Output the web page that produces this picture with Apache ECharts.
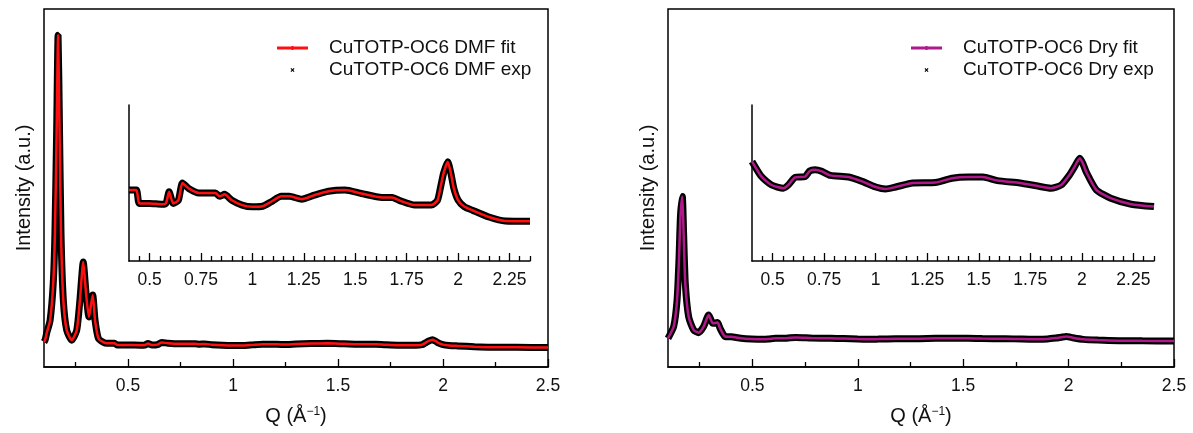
<!DOCTYPE html>
<html>
<head>
<meta charset="utf-8">
<title>CuTOTP-OC6 scattering</title>
<script src="https://cdn.jsdelivr.net/npm/echarts@6.0.0/dist/echarts.min.js"></script>
<style>
  html, body { margin: 0; padding: 0; background: #fff; }
  #chart { width: 1193px; height: 433px; }
</style>
</head>
<body>
<div id="chart"></div>
<script>
// Q (1/Å) and intensity (a.u., main frame runs 0-100)
var dmfQ = [0.100, 0.105, 0.113, 0.129, 0.144, 0.152, 0.160, 0.167, 0.173, 0.181, 0.192, 0.208, 0.232, 0.256, 0.271, 0.287,
    0.300, 0.314, 0.332, 0.343, 0.359, 0.380, 0.400, 0.436, 0.450, 0.500, 0.560, 0.580, 0.595, 0.615, 0.640, 0.660,
    0.690, 0.740, 0.820, 0.840, 0.865, 0.900, 0.950, 1.000, 1.050, 1.090, 1.140, 1.180, 1.240, 1.300, 1.370, 1.450,
    1.530, 1.630, 1.680, 1.720, 1.790, 1.870, 1.900, 1.915, 1.930, 1.950, 1.965, 1.980, 2.000, 2.030, 2.070, 2.150,
    2.230, 2.350, 2.500];
var dmfI = [7.0, 7.5, 9.5, 13, 23.4, 37.4, 65, 92.7, 70, 37.4, 18.7, 10.3, 7.5, 10.3, 18.7, 29.3,
    20.7, 14, 20.1, 13.1, 8, 7.0, 6.6, 6.6, 6.13, 6.13, 6.1, 6.14, 6.54, 6.13, 6.24, 6.85,
    6.66, 6.5, 6.5, 6.38, 6.45, 6.24, 6.07, 6.01, 6.03, 6.18, 6.38, 6.38, 6.28, 6.42, 6.56, 6.6,
    6.48, 6.34, 6.34, 6.22, 6.07, 6.07, 6.24, 6.7, 7.2, 7.6, 7.2, 6.65, 6.25, 6.02, 5.89, 5.65,
    5.51, 5.5, 5.45];

var dryQ = [0.100, 0.127, 0.143, 0.152, 0.159, 0.168, 0.174, 0.182, 0.198, 0.222, 0.245, 0.269, 0.293, 0.313, 0.335, 0.347,
    0.371, 0.400, 0.446, 0.495, 0.552, 0.576, 0.609, 0.658, 0.680, 0.706, 0.739, 0.780, 0.869, 0.934, 1.000, 1.048,
    1.097, 1.180, 1.290, 1.370, 1.450, 1.520, 1.590, 1.700, 1.780, 1.850, 1.900, 1.940, 1.965, 1.990, 2.005, 2.020,
    2.070, 2.140, 2.240, 2.350, 2.500];
var dryI = [8.0, 11.3, 18.7, 29.9, 42, 47.6, 37.3, 23.4, 14, 10.3, 9.6, 11.3, 14.5, 12.2, 12.4, 10.8,
    8.5, 8.43, 8.05, 7.84, 7.76, 7.84, 8.03, 8.05, 8.19, 8.22, 8.18, 8.08, 8.04, 7.93, 7.79, 7.74,
    7.79, 7.89, 7.90, 8.01, 8.04, 8.04, 7.95, 7.89, 7.82, 7.76, 7.84, 8.09, 8.3, 8.51, 8.38, 8.18,
    7.72, 7.51, 7.36, 7.30, 7.25];

var mainTicks = [0.5, 1, 1.5, 2, 2.5];
var mainMinorTicks = [0.25, 0.75, 1.25, 1.75, 2.25];
var insetTicks = [0.5, 0.75, 1, 1.25, 1.5, 1.75, 2, 2.25];
var insetMinorTicks = [0.45, 0.55, 0.6, 0.65, 0.7, 0.8, 0.85, 0.9, 0.95, 1.05, 1.1, 1.15, 1.2, 1.3, 1.35, 1.4, 1.45,
    1.55, 1.6, 1.65, 1.7, 1.8, 1.85, 1.9, 1.95, 2.05, 2.1, 2.15, 2.2, 2.3, 2.35];

var dmfNames = ['CuTOTP-OC6 DMF fit', 'CuTOTP-OC6 DMF exp'];
var dryNames = ['CuTOTP-OC6 Dry fit', 'CuTOTP-OC6 Dry exp'];

(function() {
    var font = '"Liberation Sans", Arial, sans-serif';
    var ink = '#111';
    var fitIcon = 'path://M0,0.6H31V3.4H0Z M14.5,0H16.5V4H14.5Z';
    var expIcon = 'path://M0,1L1,0L5,4L4,5Z M4,0L5,1L1,5L0,4Z';

    function pairs(q, v) {
        return q.map(function(x, i) { return [x, v[i]]; });
    }

    // inset only shows 0.4 - 2.35
    function insetPart(d) {
        return d.filter(function(p) { return p[0] >= 0.4 && p[0] <= 2.35; });
    }

    function tickAxis(grid, min, max, ticks, len, labels, name) {
        var ax = {
            gridIndex: grid, type: 'value', min: min, max: max, position: 'bottom',
            axisLine: { show: labels, onZero: false, lineStyle: { color: '#000', width: 1.5 } },
            axisTick: { inside: true, length: len, customValues: ticks, lineStyle: { color: '#000', width: 1.3 } },
            axisLabel: labels ? { customValues: ticks, margin: 10, fontSize: 17.5, color: ink, fontFamily: font } : { show: false },
            splitLine: { show: false }
        };
        if (name) {
            ax.name = 'Q (Å{sup|−1})';
            ax.nameLocation = 'middle';
            ax.nameGap = 39;
            ax.nameTextStyle = {
                fontSize: 20, color: ink, fontFamily: font,
                rich: { sup: { fontSize: 12, color: ink, fontFamily: font, verticalAlign: 'top' } }
            };
        }
        return ax;
    }

    function mainY(grid) {
        return {
            gridIndex: grid, type: 'value', min: 0, max: 100,
            axisLine: { show: false }, axisTick: { show: false }, axisLabel: { show: false }, splitLine: { show: false },
            name: 'Intensity (a.u.)', nameLocation: 'middle', nameGap: 10,
            nameTextStyle: { fontSize: 20, color: ink, fontFamily: font }
        };
    }

    function insetY(grid, min, max) {
        return {
            gridIndex: grid, type: 'value', min: min, max: max,
            axisLine: { show: true, onZero: false, lineStyle: { color: '#000', width: 1.5 } },
            axisTick: { show: false }, axisLabel: { show: false }, splitLine: { show: false }
        };
    }

    function line(name, xi, yi, data, color, width) {
        return {
            name: name, type: 'line', xAxisIndex: xi, yAxisIndex: yi, data: data,
            showSymbol: false, smooth: 0.2, clip: true, silent: true,
            color: color, itemStyle: { color: color },
            lineStyle: { color: color, width: width }
        };
    }

    function legend(names, left) {
        return {
            data: [{ name: names[0], icon: fitIcon }, { name: names[1], icon: expIcon }],
            left: left, top: 32, orient: 'vertical',
            itemWidth: 31, itemHeight: 4, itemGap: 0, selectedMode: false,
            textStyle: { fontSize: 19, fontFamily: font, color: ink, lineHeight: 22, padding: [0, 0, 0, 16] }
        };
    }

    var dmf = pairs(dmfQ, dmfI);
    var dry = pairs(dryQ, dryI);
    var dmfInset = insetPart(dmf);
    var dryInset = insetPart(dry);
    var red = '#ff1010';
    var magenta = '#b0198a';

    option = {
        animation: false,
        backgroundColor: '#fff',
        grid: [
            { left: 44, top: 9, width: 504, height: 358, show: true, borderColor: '#000', borderWidth: 1.5 },
            { left: 129, top: 105, width: 401, height: 156 },
            { left: 668, top: 9, width: 506, height: 358, show: true, borderColor: '#000', borderWidth: 1.5 },
            { left: 752, top: 105, width: 402, height: 156 }
        ],
        legend: [legend(dmfNames, 272), legend(dryNames, 906)],
        xAxis: [
            tickAxis(0, 0.1, 2.5, mainTicks, 8, true, true),
            tickAxis(0, 0.1, 2.5, mainMinorTicks, 5, false),
            tickAxis(1, 0.4, 2.35, insetTicks, 8, true),
            tickAxis(1, 0.4, 2.35, insetMinorTicks, 5, false),
            tickAxis(2, 0.1, 2.5, mainTicks, 8, true, true),
            tickAxis(2, 0.1, 2.5, mainMinorTicks, 5, false),
            tickAxis(3, 0.4, 2.35, insetTicks, 8, true),
            tickAxis(3, 0.4, 2.35, insetMinorTicks, 5, false)
        ],
        yAxis: [mainY(0), insetY(1, 4.1, 9.6), mainY(2), insetY(3, 5.94, 9.84)],
        series: [
            line(dmfNames[1], 0, 0, dmf, '#000', 7),
            line(dmfNames[0], 0, 0, dmf, red, 2.5),
            line(dmfNames[1], 2, 1, dmfInset, '#000', 7),
            line(dmfNames[0], 2, 1, dmfInset, red, 2.5),
            line(dryNames[1], 4, 2, dry, '#000', 7),
            line(dryNames[0], 4, 2, dry, magenta, 2.5),
            line(dryNames[1], 6, 3, dryInset, '#000', 7),
            line(dryNames[0], 6, 3, dryInset, magenta, 2.5)
        ]
    };

    var chart = echarts.init(document.getElementById('chart'));
    chart.setOption(option);
})();
</script>
</body>
</html>
